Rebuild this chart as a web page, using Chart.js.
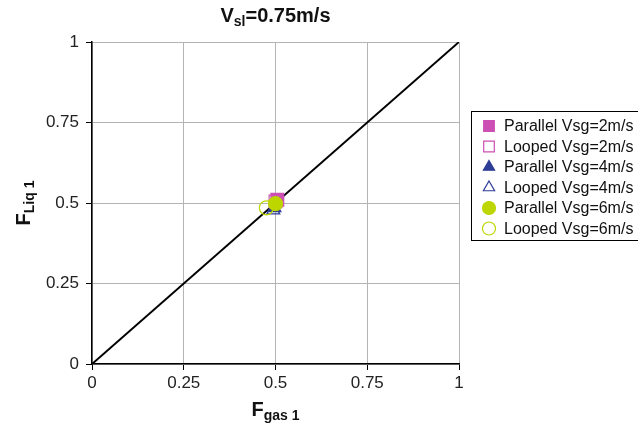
<!DOCTYPE html>
<html>
<head>
<meta charset="utf-8">
<script src="https://cdn.jsdelivr.net/npm/chart.js@4/dist/chart.umd.min.js"></script>
<style>
  html, body { margin: 0; padding: 0; background: #fff; }
  #wrap { width: 638px; height: 431px; }
</style>
</head>
<body>
<div id="wrap"><canvas id="chart" width="638" height="431"></canvas></div>
<script>
// values
const seriesNames = [
  "Parallel Vsg=2m/s", "Looped Vsg=2m/s",
  "Parallel Vsg=4m/s", "Looped Vsg=4m/s",
  "Parallel Vsg=6m/s", "Looped Vsg=6m/s"
];
const fGas = [0.505, 0.5, 0.497, 0.494, 0.5, 0.475];
const fLiq = [0.51, 0.505, 0.485, 0.478, 0.498, 0.485];
const tickValues = [0, 0.25, 0.5, 0.75, 1];
const tickLabels = ["0", "0.25", "0.5", "0.75", "1"];
const diagX = [0, 1];
const diagY = [0, 1];

const magenta = "#CC4FB4";
const blue = "#2E3D96";
const green = "#BDD600";

const styles = [
  { shape: "rect", color: magenta, filled: true, r: 9 },
  { shape: "rect", color: magenta, filled: false, r: 9 },
  { shape: "triangle", color: blue, filled: true, r: 7.5 },
  { shape: "triangle", color: blue, filled: false, r: 7.5 },
  { shape: "circle", color: green, filled: true, r: 7 },
  { shape: "circle", color: green, filled: false, r: 7 }
];
const drawOrder = [3, 4, 5, 6, 1, 2]; // smaller = on top

const datasets = seriesNames.map((name, i) => ({
  label: name,
  data: [{ x: fGas[i], y: fLiq[i] }],
  pointStyle: styles[i].shape,
  pointRadius: styles[i].r,
  pointBorderWidth: 1.2,
  pointBorderColor: styles[i].color,
  pointBackgroundColor: styles[i].filled ? styles[i].color : "rgba(0,0,0,0)",
  showLine: false,
  order: drawOrder[i]
}));

datasets.push({
  label: "diag",
  type: "line",
  data: diagX.map((x, i) => ({ x: x, y: diagY[i] })),
  borderColor: "#000",
  borderWidth: 2,
  pointRadius: 0,
  order: 10
});

// text with subscripts: parts = [[text, isSub], ...]
function drawSubText(ctx, parts, size, subSize) {
  let w = 0;
  parts.forEach(p => {
    ctx.font = "bold " + (p[1] ? subSize : size) + "px 'Liberation Sans', Arial, sans-serif";
    w += ctx.measureText(p[0]).width;
  });
  let x = -w / 2;
  parts.forEach(p => {
    ctx.font = "bold " + (p[1] ? subSize : size) + "px 'Liberation Sans', Arial, sans-serif";
    ctx.fillText(p[0], x, p[1] ? size * 0.3 : 0);
    x += ctx.measureText(p[0]).width;
  });
}

const extras = {
  id: "extras",
  afterDraw(chart) {
    const ctx = chart.ctx;
    const area = chart.chartArea;
    const cx = (area.left + area.right) / 2;
    ctx.save();
    ctx.fillStyle = "#111";
    ctx.textBaseline = "middle";
    ctx.textAlign = "left";

    // title
    ctx.save();
    ctx.translate(cx, 16);
    drawSubText(ctx, [["V", false], ["sl", true], ["=0.75m/s", false]], 20, 14);
    ctx.restore();

    // x axis title
    ctx.save();
    ctx.translate(cx, 410);
    drawSubText(ctx, [["F", false], ["gas 1", true]], 20, 14);
    ctx.restore();

    // y axis title
    ctx.save();
    ctx.translate(24, (area.top + area.bottom) / 2);
    ctx.rotate(-Math.PI / 2);
    drawSubText(ctx, [["F", false], ["Liq 1", true]], 20, 14);
    ctx.restore();

    // legend
    const lx = 471, ly = 111, lw = 175, lh = 129;
    ctx.strokeStyle = "#000";
    ctx.lineWidth = 1;
    ctx.strokeRect(lx + 0.5, ly + 0.5, lw, lh);
    ctx.font = "16px 'Liberation Sans', Arial, sans-serif";
    seriesNames.forEach((name, i) => {
      const y = 126 + i * 20.5;
      const s = styles[i];
      ctx.fillStyle = s.filled ? s.color : "#fff";
      ctx.strokeStyle = s.color;
      ctx.lineWidth = 1.2;
      Chart.helpers.drawPoint(ctx, {
        pointStyle: s.shape,
        radius: s.shape === "rect" ? 7.5 : 6.5,
        rotation: 0,
        borderWidth: 1.2
      }, 489, y);
      ctx.fillStyle = "#111";
      ctx.fillText(name, 504, y + 1);
    });
    ctx.restore();
  }
};

new Chart(document.getElementById("chart"), {
  type: "scatter",
  data: { datasets: datasets },
  options: {
    responsive: false,
    animation: false,
    layout: { padding: { top: 42, right: 179, left: 0, bottom: 0 } },
    plugins: {
      legend: { display: false },
      tooltip: { enabled: false }
    },
    scales: {
      x: {
        type: "linear",
        min: 0,
        max: 1,
        afterBuildTicks: axis => { axis.ticks = tickValues.map(v => ({ value: v })); },
        afterFit: axis => { axis.height = 67; },
        grid: { color: "#b4b4b4", lineWidth: 1, tickColor: "#000", tickLength: 6 },
        border: { color: "#000", width: 1.5 },
        ticks: {
          color: "#222",
          padding: 3,
          font: { size: 17, family: "'Liberation Sans', Arial, sans-serif" },
          callback: v => tickLabels[tickValues.indexOf(v)]
        }
      },
      y: {
        type: "linear",
        min: 0,
        max: 1,
        afterBuildTicks: axis => { axis.ticks = tickValues.map(v => ({ value: v })); },
        afterFit: axis => { axis.width = 92; },
        grid: { color: "#b4b4b4", lineWidth: 1, tickColor: "#000", tickLength: 6 },
        border: { color: "#000", width: 1.5 },
        ticks: {
          color: "#222",
          padding: 7,
          font: { size: 17, family: "'Liberation Sans', Arial, sans-serif" },
          callback: v => tickLabels[tickValues.indexOf(v)]
        }
      }
    }
  },
  plugins: [extras]
});
</script>
</body>
</html>
